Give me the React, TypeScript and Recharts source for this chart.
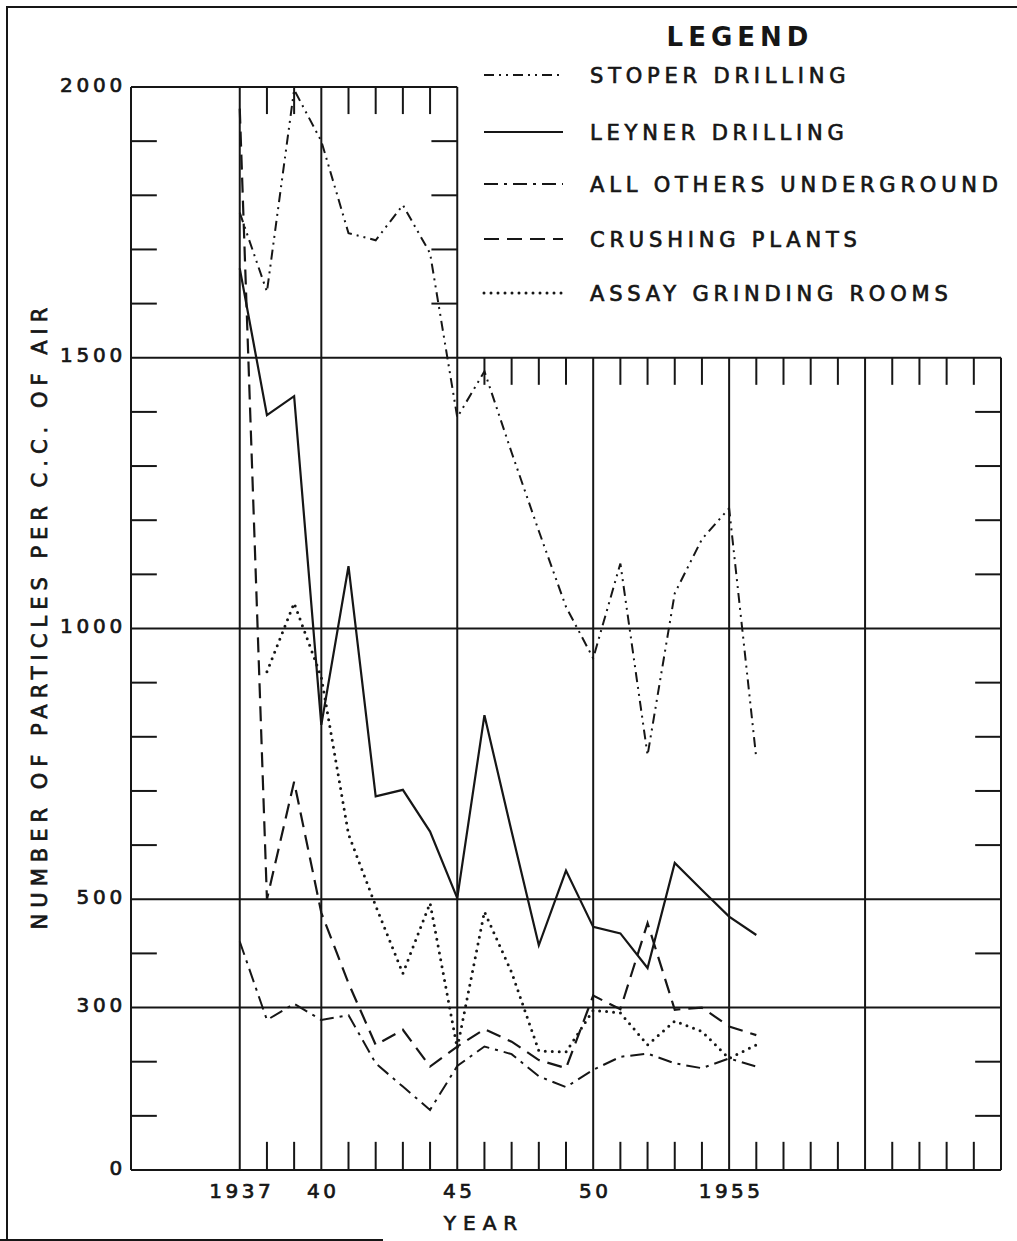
import React from 'react';
import { LineChart, Line, XAxis, YAxis, ReferenceLine, Legend, Label } from 'recharts';

// ---------- data ----------
const years = [1937, 1938, 1939, 1940, 1941, 1942, 1943, 1944, 1945, 1946, 1947, 1948, 1949, 1950, 1951, 1952, 1953, 1954, 1955, 1956];
const stoper = [1768, 1622, 1995, 1900, 1730, 1717, 1782, 1693, 1390, 1475, 1325, 1180, 1040, 945, 1120, 766, 1065, 1165, 1222, 760];
const leyner = [1665, 1394, 1429, 822, 1115, 690, 702, 625, 502, 840, 625, 415, 553, 449, 437, 373, 567, 517, 468, 434];
const others = [422, 277, 307, 277, 286, 197, 154, 111, 192, 228, 214, 173, 153, 185, 209, 215, 197, 188, 206, 191];
const crushing = [1960, 500, 717, 475, 345, 231, 259, 191, 228, 260, 237, 203, 188, 322, 297, 456, 296, 300, 265, 249];
const assay = [null, 920, 1047, 910, 620, 488, 363, 493, 225, 477, 365, 220, 218, 295, 290, 231, 275, 256, 206, 231];

const seriesKeys = ['stoper', 'leyner', 'others', 'crushing', 'assay'];
const seriesNames = ['STOPER DRILLING', 'LEYNER DRILLING', 'ALL OTHERS UNDERGROUND', 'CRUSHING PLANTS', 'ASSAY GRINDING ROOMS'];

const xTicks = [1937, 1940, 1945, 1950, 1955];
const xTickLabels = ['1937', '40', '45', '50', '1955'];
const yTicks = [0, 300, 500, 1000, 1500, 2000];
const yTickLabels = ['0', '300', '500', '1000', '1500', '2000'];

// grid structure (chart furniture)
const fullHLines = [300, 500, 1000, 1500];
const fullVLines = [1937, 1940, 1945];
const lowerVLines = [1950, 1955, 1960, 1965];
const leftMinorY = [100, 200, 400, 600, 700, 800, 900, 1100, 1200, 1300, 1400, 1600, 1700, 1800, 1900];
const rightMinorY = [100, 200, 400, 600, 700, 800, 900, 1100, 1200, 1300, 1400];
const boxMinorY = [1600, 1700, 1800, 1900];
const bottomMinorX = [1938, 1939, 1941, 1942, 1943, 1944, 1946, 1947, 1948, 1949, 1951, 1952, 1953, 1954, 1956, 1957, 1958, 1959, 1961, 1962, 1963, 1964];
const topMinorX = [1938, 1939, 1941, 1942, 1943, 1944];
const midMinorX = [1946, 1947, 1948, 1949, 1951, 1952, 1953, 1954, 1956, 1957, 1958, 1959, 1961, 1962, 1963, 1964];

const data = years.map((year, i) => ({
  year,
  stoper: stoper[i],
  leyner: leyner[i],
  others: others[i],
  crushing: crushing[i],
  assay: assay[i],
}));

// ---------- styles ----------
const INK = '#161616';
const FONT = '"DejaVu Sans", sans-serif';
const TEXT_STROKE = 0.7;
const seriesStyle: Record<string, { dash?: string; width: number; cap?: 'round' | 'butt' }> = {
  stoper: { dash: '10 5 2 5 2 5', width: 2 },
  leyner: { width: 2.2 },
  others: { dash: '14 6 3 6', width: 2 },
  crushing: { dash: '15 8', width: 2.2 },
  assay: { dash: '0 7', width: 3, cap: 'round' },
};

const X_MIN = 1933;
const X_MAX = 1965;
const X_TICK_LEN = 0.95;
const Y_TICK_LEN = 50;

const XTick = (props: any) => {
  const { x, y, payload } = props;
  const idx = xTicks.indexOf(payload.value);
  return (
    <text x={x + 2} y={y + 28} textAnchor="middle" fontFamily={FONT} fontSize={20} letterSpacing={3.5}
      fill={INK} stroke={INK} strokeWidth={TEXT_STROKE}>
      {idx >= 0 ? xTickLabels[idx] : payload.value}
    </text>
  );
};

const YTick = (props: any) => {
  const { x, y, payload } = props;
  const idx = yTicks.indexOf(payload.value);
  return (
    <text x={x - 5} y={y + 4.5} textAnchor="end" fontFamily={FONT} fontSize={20} letterSpacing={3.8}
      fill={INK} stroke={INK} strokeWidth={TEXT_STROKE}>
      {idx >= 0 ? yTickLabels[idx] : payload.value}
    </text>
  );
};

const YearLabel = (props: any) => {
  const vb = props.viewBox || { x: 131, y: 1170, width: 870, height: 40 };
  return (
    <text x={vb.x + 353} y={vb.y + 60} textAnchor="middle" fontFamily={FONT} fontSize={20} letterSpacing={7}
      fill={INK} stroke={INK} strokeWidth={TEXT_STROKE}>
      YEAR
    </text>
  );
};

const YTitle = (props: any) => {
  const vb = props.viewBox || { x: 71, y: 87, width: 60, height: 1083 };
  const cx = vb.x - 31;
  const cy = vb.y + vb.height / 2 - 10;
  return (
    <text
      x={cx}
      y={cy}
      transform={`rotate(-90, ${cx}, ${cy})`}
      textAnchor="middle"
      dominantBaseline="central"
      dx={3}
      fontFamily={FONT}
      fontSize={21}
      letterSpacing={6}
      fill={INK}
      stroke={INK}
      strokeWidth={TEXT_STROKE}
    >
      NUMBER OF PARTICLES PER C.C. OF AIR
    </text>
  );
};

const LegendBox = () => {
  const rowY = [65, 122, 174, 229, 283];
  return (
    <svg width={547} height={310} style={{ display: 'block' }}>
      <text x={270} y={36} textAnchor="middle" fontFamily={FONT} fontSize={26} fontWeight="bold" letterSpacing={5}
        fill={INK}>
        LEGEND
      </text>
      {seriesKeys.map((k, i) => {
        const st = seriesStyle[k];
        return (
          <g key={k}>
            <line
              x1={14}
              x2={93}
              y1={rowY[i]}
              y2={rowY[i]}
              stroke={INK}
              strokeWidth={st.width}
              strokeDasharray={st.dash}
              strokeLinecap={st.cap || 'butt'}
            />
            <text x={120} y={rowY[i] + 8} fontFamily={FONT} fontSize={21} letterSpacing={4.8}
              fill={INK} stroke={INK} strokeWidth={TEXT_STROKE}>
              {seriesNames[i]}
            </text>
          </g>
        );
      })}
    </svg>
  );
};

const seg = (x1: number, y1: number, x2: number, y2: number, key: string, w = 2) => (
  <ReferenceLine
    key={key}
    segment={[{ x: x1, y: y1 }, { x: x2, y: y2 }]}
    stroke={INK}
    strokeWidth={w}
    ifOverflow="visible"
  />
);

export default function App() {
  return (
    <div style={{ position: 'absolute', left: 0, top: 0, width: 1017, height: 1241, background: '#fff' }}>
      {/* outer frame */}
      <div style={{ position: 'absolute', left: 6, top: 6, width: 1011, height: 2, background: INK }} />
      <div style={{ position: 'absolute', left: 6, top: 6, width: 2, height: 1235, background: INK }} />
      <div style={{ position: 'absolute', left: 0, top: 1239, width: 383, height: 2, background: INK }} />
      <LineChart width={1017} height={1241} data={data} margin={{ top: 87, right: 16, bottom: 31, left: 71 }}>
        <XAxis
          dataKey="year"
          type="number"
          domain={[X_MIN, X_MAX]}
          ticks={xTicks}
          tick={<XTick />}
          tickLine={false}
          tickSize={0}
          tickMargin={0}
          axisLine={{ stroke: INK, strokeWidth: 2 }}
          height={40}
          interval={0}
        >
          <Label content={<YearLabel />} />
        </XAxis>
        <YAxis
          type="number"
          domain={[0, 2000]}
          ticks={yTicks}
          tick={<YTick />}
          tickLine={false}
          tickSize={0}
          tickMargin={0}
          axisLine={{ stroke: INK, strokeWidth: 2 }}
          width={60}
          interval={0}
        >
          <Label content={<YTitle />} />
        </YAxis>

        {fullHLines.map((v) => seg(X_MIN, v, X_MAX, v, `h${v}`))}
        {seg(X_MIN, 2000, 1945, 2000, 'top2000')}
        {fullVLines.map((v) => seg(v, 0, v, 2000, `v${v}`))}
        {lowerVLines.map((v) => seg(v, 0, v, 1500, `lv${v}`))}
        {leftMinorY.map((v) => seg(X_MIN, v, X_MIN + X_TICK_LEN, v, `lm${v}`))}
        {rightMinorY.map((v) => seg(X_MAX - X_TICK_LEN, v, X_MAX, v, `rm${v}`))}
        {boxMinorY.map((v) => seg(1945 - X_TICK_LEN, v, 1945, v, `bm${v}`))}
        {bottomMinorX.map((v) => seg(v, 0, v, Y_TICK_LEN + 2, `bx${v}`))}
        {topMinorX.map((v) => seg(v, 2000, v, 2000 - Y_TICK_LEN, `tx${v}`))}
        {midMinorX.map((v) => seg(v, 1500, v, 1500 - Y_TICK_LEN, `mx${v}`))}

        {seriesKeys.map((k, i) => {
          const st = seriesStyle[k];
          return (
            <Line
              key={k}
              type="linear"
              dataKey={k}
              name={seriesNames[i]}
              stroke={INK}
              strokeWidth={st.width}
              strokeDasharray={st.dash}
              strokeLinecap={st.cap || 'butt'}
              dot={false}
              activeDot={false}
              isAnimationActive={false}
              connectNulls={false}
            />
          );
        })}

        <Legend
          layout="vertical"
          align="center"
          verticalAlign="middle"
          content={<LegendBox />}
          wrapperStyle={{ position: 'absolute', left: 470, top: 10, width: 547, height: 310 }}
        />
      </LineChart>
    </div>
  );
}
